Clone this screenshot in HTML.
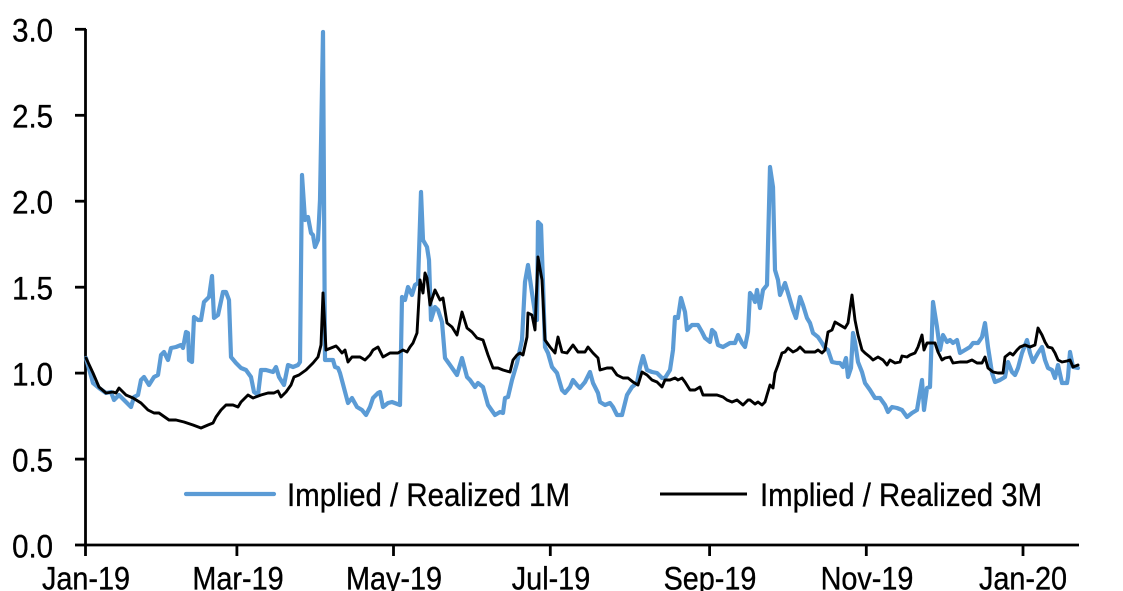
<!DOCTYPE html>
<html><head><meta charset="utf-8"><style>
html,body{margin:0;padding:0;background:#fff;}
svg{display:block;}
text{font-family:"Liberation Sans",Arial,sans-serif;font-size:32px;fill:#000;stroke:#000;stroke-width:0.35px;}
</style></head><body>
<svg width="1123" height="591" viewBox="0 0 1123 591" xmlns="http://www.w3.org/2000/svg">
<rect width="1123" height="591" fill="#fff"/>
<!-- axes -->
<g stroke="#000" stroke-width="2.8" fill="none">
<line x1="85.5" y1="29" x2="85.5" y2="546"/>
<line x1="84" y1="545" x2="1079" y2="545"/>
<line x1="75" y1="29.3" x2="86" y2="29.3"/>
<line x1="75" y1="115.3" x2="86" y2="115.3"/>
<line x1="75" y1="201.2" x2="86" y2="201.2"/>
<line x1="75" y1="287.2" x2="86" y2="287.2"/>
<line x1="75" y1="373.1" x2="86" y2="373.1"/>
<line x1="75" y1="459.1" x2="86" y2="459.1"/>
<line x1="75" y1="545" x2="86" y2="545"/>
<line x1="85.5" y1="545" x2="85.5" y2="556"/>
<line x1="236.9" y1="545" x2="236.9" y2="556"/>
<line x1="393.5" y1="545" x2="393.5" y2="556"/>
<line x1="550.3" y1="545" x2="550.3" y2="556"/>
<line x1="709.6" y1="545" x2="709.6" y2="556"/>
<line x1="866.3" y1="545" x2="866.3" y2="556"/>
<line x1="1023" y1="545" x2="1023" y2="556"/>
</g>
<!-- y labels -->
<g text-anchor="end">
<text transform="translate(53,41.7) scale(0.92,1)">3.0</text>
<text transform="translate(53,127.7) scale(0.92,1)">2.5</text>
<text transform="translate(53,213.6) scale(0.92,1)">2.0</text>
<text transform="translate(53,299.6) scale(0.92,1)">1.5</text>
<text transform="translate(53,385.5) scale(0.92,1)">1.0</text>
<text transform="translate(53,471.5) scale(0.92,1)">0.5</text>
<text transform="translate(53,557.4) scale(0.92,1)">0.0</text>
</g>
<!-- x labels -->
<g text-anchor="middle">
<text transform="translate(86,589.5) scale(0.9,1)">Jan-19</text>
<text transform="translate(238,589.5) scale(0.9,1)">Mar-19</text>
<text transform="translate(394,589.5) scale(0.9,1)">May-19</text>
<text transform="translate(551,589.5) scale(0.9,1)">Jul-19</text>
<text transform="translate(710,589.5) scale(0.9,1)">Sep-19</text>
<text transform="translate(867,589.5) scale(0.9,1)">Nov-19</text>
<text transform="translate(1023,589.5) scale(0.9,1)">Jan-20</text>
</g>
<!-- blue series -->
<polyline fill="none" stroke="#5B9BD5" stroke-width="4.2" stroke-linejoin="round" stroke-linecap="round" points="86,358 93,383 99,388 106,393 111,392 114,400 119,395 124,400 131,407 134,397 138,395 141,380 144,377 149,385 154,377 158,375 161,355 164,352 168,360 171,348 176,347 181,345 183,348 186,332 188,333 189,360 192,362 194,317 198,320 201,320 204,302 209,297 212,276 214,318 218,315 223,292 226,292 229,300 231,357 236,363 241,368 246,370 251,377 254,392 258,395 261,370 266,370 273,372 276,367 279,377 284,385 288,365 293,367 298,365 300,362 302,175 305,220 308,217 311,233 313,235 315,247 318,240 320,200 323,32 325,360 333,360 335,367 338,368 340,373 348,403 352,398 357,407 362,410 366,415 370,407 373,398 378,393 380,392 383,407 388,403 392,402 400,405 402,297 405,300 408,287 412,295 415,285 418,283 421,192 423,240 427,247 429,260 431,320 435,307 438,310 442,322 445,358 450,365 457,375 462,358 467,377 470,380 475,387 478,383 483,387 488,405 495,415 500,412 503,413 505,398 508,397 512,380 517,363 522,340 525,282 528,265 532,293 535,313 537,320 538,222 541,225 543,283 545,347 548,353 552,367 557,373 562,390 565,393 570,387 573,380 577,385 580,388 585,382 590,372 593,383 598,393 600,402 605,405 610,403 613,407 617,415 622,415 627,395 632,387 637,383 640,367 643,356 647,370 652,372 657,373 662,378 665,378 670,370 673,350 675,317 678,318 681,298 685,312 687,330 692,325 698,325 702,332 705,338 710,342 712,330 715,333 718,345 723,347 730,343 735,343 738,335 742,343 745,347 748,332 750,293 753,297 755,302 757,290 760,308 763,290 767,285 770,167 773,187 775,270 778,280 780,295 785,283 788,293 793,310 796,318 800,297 803,305 807,318 810,323 813,333 818,337 822,343 825,348 828,350 832,362 837,363 840,363 843,367 846,358 848,377 851,368 853,333 855,342 858,362 862,372 865,383 870,390 875,398 880,398 885,405 888,412 892,407 897,408 902,410 907,417 912,413 917,410 922,380 924,410 927,388 930,387 933,302 937,327 940,350 943,335 947,342 950,340 953,343 957,340 960,353 965,350 970,347 973,343 978,343 982,337 985,323 988,347 992,373 995,382 1000,380 1005,377 1008,362 1012,372 1015,375 1018,368 1022,353 1027,340 1030,353 1033,362 1038,353 1042,347 1045,360 1048,368 1052,370 1055,378 1058,365 1062,383 1067,383 1068,377 1070,352 1073,367 1078,368"/>
<!-- black series -->
<polyline fill="none" stroke="#000" stroke-width="2.9" stroke-linejoin="round" stroke-linecap="round" points="86,358 93,373 99,387 106,393 113,392 116,393 119,388 126,395 133,398 141,403 148,410 154,413 159,413 169,420 176,420 184,422 193,425 201,428 208,425 213,423 216,417 221,410 226,405 233,405 238,407 241,402 248,395 253,398 261,395 268,393 274,393 278,391 281,397 286,392 291,385 294,377 299,375 306,370 313,363 318,357 321,345 323,293 326,350 331,348 336,346 338,348 342,353 345,350 348,362 352,357 360,357 365,360 370,355 373,350 378,347 383,357 390,353 398,353 403,350 407,352 410,347 413,343 417,333 420,280 423,293 425,273 427,278 430,305 435,290 440,300 443,298 447,323 452,327 457,335 462,312 467,328 472,332 477,338 483,340 488,355 493,368 498,368 503,370 510,372 513,360 517,355 520,353 523,355 527,337 528,313 532,315 535,330 538,257 542,280 545,340 550,347 555,353 558,337 562,352 567,353 573,345 578,352 585,352 588,347 593,353 598,358 600,370 607,368 612,368 617,375 623,378 628,378 633,382 638,385 642,372 647,375 652,380 657,382 662,387 665,380 670,380 675,378 678,380 682,378 685,382 690,390 695,390 700,387 703,395 710,395 717,395 723,397 727,400 732,402 737,400 743,405 748,400 750,400 755,404 758,402 762,405 765,402 767,395 770,385 773,388 775,373 778,365 782,353 785,352 788,348 793,352 797,350 800,347 805,352 810,352 815,352 818,350 822,353 825,350 828,332 832,330 835,322 840,325 845,328 848,323 852,295 855,320 858,335 862,350 865,353 870,357 873,360 878,357 883,360 887,365 890,360 895,363 900,362 902,356 907,357 910,355 915,353 918,347 922,335 924,350 927,343 932,343 935,343 938,352 942,360 945,358 950,357 953,363 960,362 967,362 972,360 977,363 982,363 985,357 988,368 993,372 998,373 1003,373 1005,357 1010,353 1013,355 1017,350 1020,347 1025,345 1030,347 1035,345 1038,328 1042,335 1045,342 1048,347 1052,348 1055,353 1058,360 1062,362 1067,361 1070,360 1073,367 1078,365"/>
<!-- legend -->
<line x1="186" y1="494" x2="274" y2="494" stroke="#5B9BD5" stroke-width="4.2" stroke-linecap="round"/>
<text x="287" y="506" textLength="283" lengthAdjust="spacingAndGlyphs">Implied / Realized 1M</text>
<line x1="660" y1="494" x2="747" y2="494" stroke="#000" stroke-width="2.9"/>
<text x="760" y="506" textLength="282" lengthAdjust="spacingAndGlyphs">Implied / Realized 3M</text>
</svg>
</body></html>
